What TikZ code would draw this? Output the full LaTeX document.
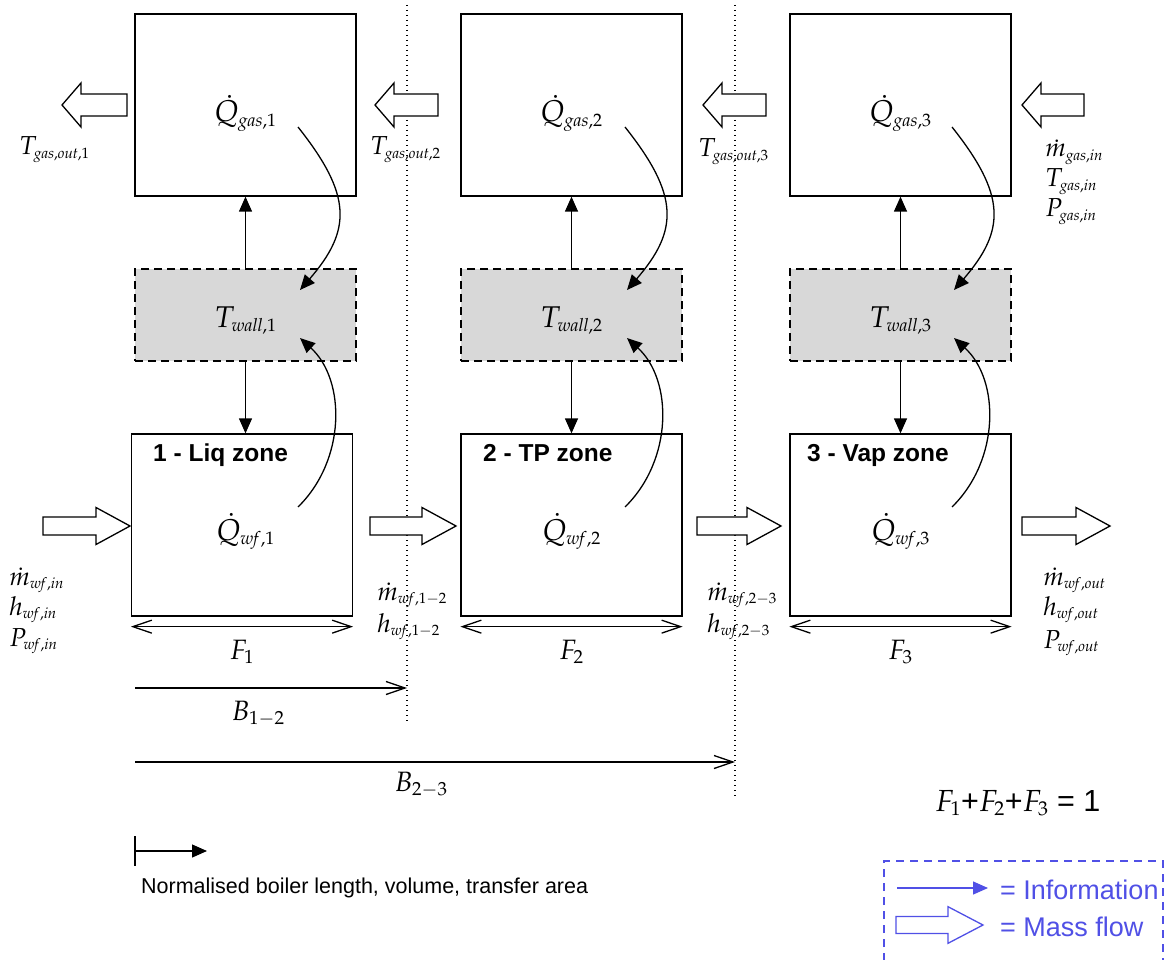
\documentclass[tikz,border=0pt]{standalone}
\usepackage{mathpazo}
\usepackage[no-math]{fontspec}
\newfontfamily\arial{Liberation Sans}
\usetikzlibrary{arrows.meta,calc}
\DeclareMathSizes{30}{30}{18}{13}
\DeclareMathSizes{26}{26}{15}{11}
\DeclareMathSizes{28}{28}{19}{14}
\DeclareMathSizes{30.5}{30.5}{20}{14}
\definecolor{legblue}{RGB}{80,80,230}
\definecolor{wallgray}{RGB}{216,216,216}
% mass-flow arrow: [style]{tail x}{tip x}{y}{half body}{half head}{signed head length}
\newcommand\massarrow[7][]{%
  \draw[massflow,#1] ({#2},{#4-#5}) -- ({#3-(#7)},{#4-#5}) -- ({#3-(#7)},{#4-#6})
    -- ({#3},{#4}) -- ({#3-(#7)},{#4+#6}) -- ({#3-(#7)},{#4+#5}) -- ({#2},{#4+#5}) -- cycle;}
\begin{document}
\begin{tikzpicture}[x=1pt,y=-1pt,
  box/.style={draw,line width=1.3pt,minimum width=221pt,minimum height=182pt,inner sep=0pt},
  wallbox/.style={draw,line width=1.3pt,dash pattern=on 8pt off 5pt,fill=wallgray,
    minimum width=221pt,minimum height=92pt,inner sep=0pt},
  info/.style={line width=1.3pt,-{Triangle[length=15pt,width=13pt]}},
  openarr/.style={line width=1.3pt,-{Straight Barb[length=19pt,width=13pt]}},
  dimarr/.style={line width=1.3pt,{Straight Barb[length=19pt,width=13pt]}-{Straight Barb[length=19pt,width=13pt]}},
  massflow/.style={draw,line width=1.3pt,fill=white,line join=miter},
  divider/.style={line width=1.3pt,dash pattern=on 1.4pt off 3.6pt},
  lbl/.style={inner sep=0pt,anchor=base west,font=\fontsize{26}{30}\selectfont},
  dimlbl/.style={inner sep=0pt,anchor=base,font=\fontsize{28}{32}\selectfont},
  biglbl/.style={inner sep=0pt,anchor=base,font=\fontsize{30}{34}\selectfont},
  zone/.style={inner sep=0pt,anchor=base west,font=\arial\bfseries\fontsize{24.5}{28}\selectfont},
  legtext/.style={inner sep=0pt,anchor=base west,text=legblue,font=\arial\fontsize{27}{32}\selectfont}
]
\fill[white] (0,0) rectangle (1167,960);
\useasboundingbox (0,0) rectangle (1167,960);

% dividers
\coordinate (d1top) at (407,5);
\coordinate (d1bot) at (407,722);
\coordinate (d2top) at (735,5);
\coordinate (d2bot) at (735,797);
\draw[divider] (d1top) -- (d1bot);
\draw[divider] (d2top) -- (d2bot);

\foreach \i/\gx/\bx/\dx/\zx/\zname in {1/245.5/242/0/153/{1 - Liq zone},2/571.5/571.5/327/483/{2 - TP zone},3/900.5/900.5/654/807/{3 - Vap zone}}{
  \node[box] (gas\i) at (\gx,105) {};
  \node[wallbox] (wall\i) at (\gx,315) {};
  \node[box] (wf\i) at (\bx,525) {};
  \node[biglbl] (qg\i) at (\gx,122) {$\dot{Q}_{\mathit{gas},\i}$};
  \node[biglbl] (tw\i) at (\gx,327) {$T_{\mathit{wall},\i}$};
  \node[biglbl] (qw\i) at (\gx,540) {$\dot{Q}_{\mathit{wf},\i}$};
  \node[zone] (zone\i) at (\zx,461) {\zname};
  % information arrows
  \draw[info] (wall\i.north) -- (wall\i.north |- gas\i.south);
  \draw[info] (wall\i.south) -- (wall\i.south |- wf\i.north);
  % heat curves
  \coordinate (cgs\i) at ({\dx+298},127);
  \coordinate (cge\i) at ({\dx+300},290);
  \coordinate (cws\i) at ({\dx+298},507);
  \coordinate (cwe\i) at ({\dx+300},338);
  \draw[info] (cgs\i) .. controls ({\dx+352},195) and ({\dx+352},230) .. (cge\i);
  \draw[info] (cws\i) .. controls ({\dx+346},460) and ({\dx+346},380) .. (cwe\i);
  % fraction
  \draw[dimarr] ([yshift=-10pt]wf\i.south west) -- ([yshift=-10pt]wf\i.south east);
  \node[dimlbl] (F\i) at (\bx,659) {$F_{\i}$};
}

% gas mass flows (right to left)
\massarrow{127}{62}{105}{11}{22}{-19}
\massarrow{438}{375}{105}{11}{22}{-19}
\massarrow{766}{703}{105}{11}{22}{-19}
\massarrow{1084}{1022}{105}{11}{22}{-19}
% working fluid mass flows (left to right)
\massarrow{43}{130}{526}{9}{18.5}{34}
\massarrow{370}{456}{526}{9}{18.5}{34}
\massarrow{697}{781}{526}{9}{18.5}{34}
\massarrow{1022}{1110}{526}{9}{18.5}{34}

% side labels
\node[lbl] (tgo1) at (19,155) {$T_{\mathit{gas,out},1}$};
\node[lbl] (tgo2) at (370,155) {$T_{\mathit{gas,out},2}$};
\node[lbl] (tgo3) at (698,157) {$T_{\mathit{gas,out},3}$};
\node[lbl] (mgi) at (1045,157) {$\dot{m}_{\mathit{gas,in}}$};
\node[lbl] (tgi) at (1045,187) {$T_{\mathit{gas,in}}$};
\node[lbl] (pgi) at (1045,217) {$P_{\mathit{gas,in}}$};
\node[lbl] (mwi) at (9,585) {$\dot{m}_{\mathit{wf,in}}$};
\node[lbl] (hwi) at (9,615) {$h_{\mathit{wf,in}}$};
\node[lbl] (pwi) at (9,646) {$P_{\mathit{wf,in}}$};
\node[lbl] (m12) at (377,600) {$\dot{m}_{\mathit{wf},1{-}2}$};
\node[lbl] (h12) at (377,632) {$h_{\mathit{wf},1{-}2}$};
\node[lbl] (m23) at (707,600) {$\dot{m}_{\mathit{wf},2{-}3}$};
\node[lbl] (h23) at (707,632) {$h_{\mathit{wf},2{-}3}$};
\node[lbl] (mwo) at (1043,585) {$\dot{m}_{\mathit{wf,out}}$};
\node[lbl] (hwo) at (1043,615) {$h_{\mathit{wf,out}}$};
\node[lbl] (pwo) at (1043,648) {$P_{\mathit{wf,out}}$};

% boundary positions
\coordinate (b12s) at (135,688);
\coordinate (b23s) at (135,762);
\draw[openarr] (b12s) -- (b12s -| d1top);
\draw[openarr] (b23s) -- (b23s -| d2top);
\node[dimlbl] (B12) at (258,720) {$B_{1{-}2}$};
\node[dimlbl] (B23) at (421,791) {$B_{2{-}3}$};

% sum
\node[inner sep=0pt,anchor=base west,font=\arial\fontsize{30.5}{34}\selectfont] (sum) at (935,811) {$F_1$+$F_2$+$F_3$ = 1};

% normalised length indicator
\coordinate (nb1) at (135,836);
\coordinate (nb2) at (135,866);
\coordinate (ns) at (135,851);
\coordinate (ne) at (207,851);
\draw[line width=1.3pt] (nb1) -- (nb2);
\draw[info] (ns) -- (ne);
\node[inner sep=0pt,anchor=base west,font=\arial\fontsize{21.5}{26}\selectfont] (normtxt) at (141,893) {Normalised boiler length, volume, transfer area};

% legend
\draw[legblue,line width=1.3pt,dash pattern=on 8pt off 6pt] (884,975) -- (884,861) -- (1163,861) -- (1163,975);
\coordinate (li1) at (897,888);
\coordinate (li2) at (988,888);
\draw[info,legblue] (li1) -- (li2);
\massarrow[draw=legblue]{896}{983}{925}{8.5}{18.3}{35}
\node[legtext] (linfo) at (1000,899) {= Information};
\node[legtext] (lmass) at (1000,936) {= Mass flow};
\end{tikzpicture}
\end{document}
